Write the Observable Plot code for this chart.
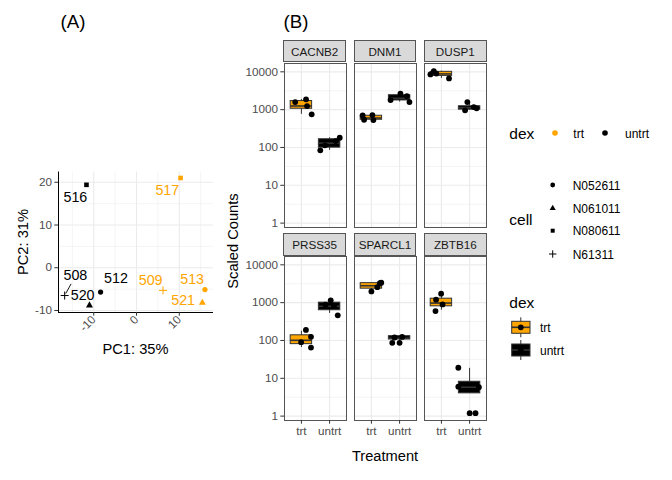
<!DOCTYPE html>
<html><head><meta charset="utf-8">
<script src="https://cdn.jsdelivr.net/npm/d3@7"></script>
<script src="https://cdn.jsdelivr.net/npm/@observablehq/plot@0.6"></script>
<style>
body{margin:0;background:#fff;font-family:"Liberation Sans",Arial,sans-serif;}
#root{position:relative;width:672px;height:480px;overflow:hidden;background:#fff;}
.layer{position:absolute;}
.t{position:absolute;white-space:nowrap;line-height:1;}
</style></head><body><div id="root"></div>
<script>
const FONT = '"Liberation Sans", Arial, sans-serif';
// ---------- Panel A data (PCA) ----------
const samples    = ["508","509","512","513","516","517","520","521"];
const sampleDex  = ["untrt","trt","untrt","trt","untrt","trt","untrt","trt"];
const sampleCell = ["N61311","N61311","N052611","N052611","N080611","N080611","N061011","N061011"];
const pc1 = [-16.8, 6.2, -8.4, 16.0, -11.7, 10.3, -11.0, 15.4];
const pc2 = [-6.5, -5.3, -5.7, -5.1, 19.4, 21.0, -8.8, -8.2];
const labelPc1 = [-14.3, 3.3, -4.8, 13.0, -14.3, 7.2, -12.6, 10.9];
const labelPc2 = [-1.8, -3.0, -2.6, -2.8, 16.5, 18.1, -6.5, -7.6];
const labelSegment = [true, false, false, false, false, false, false, false];
const pcXTicks = [-10, 0, 10];
const pcYTicks = [-10, 0, 10, 20];
const pcXMinor = [-15, -5, 5, 15];
const pcYMinor = [-5, 5, 15];
const pcXDomain = [-18.24, 18.0];
const pcYDomain = [-10.47, 22.4];

const cells = ["N052611","N061011","N080611","N61311"];
const cellSymbols = ["circle","triangle","square","plus"];
const treatments = ["trt","untrt"];
const dexColors = ["#FFA500","#000000"];

// ---------- Panel B data (counts) ----------
const genes = ["CACNB2","DNM1","DUSP1","PRSS35","SPARCL1","ZBTB16"];
const trtCounts = [[1590,1870,1245,752],[700,540,720,530],[8550,10400,9000,6700],[190,125,90,65],[1983,2570,3280,3360],[1726,1200,600,900]];
const trtJitter = [[-0.22,0.165,0.20,0.365],[-0.31,-0.26,0.035,0.07],[-0.39,-0.27,-0.18,0.27],[0.16,0.34,-0.01,0.34],[0,0.21,0.30,0.35],[-0.01,-0.19,-0.21,0.04]];
const untrtCounts = [[84,114,148,181],[1790,2630,2285,1590],[1590,957,1170,1082],[1150,880,820,463],[86.5,120,86.5,124],[19,6,5.8,1.2,1.2]];
const untrtJitter = [[-0.33,-0.165,0.22,0.36],[-0.32,0.03,0.26,0.35],[-0.08,-0.16,0.15,0.25],[0.04,-0.15,0.155,0.29],[-0.26,-0.18,0,0.09],[-0.40,-0.40,0.33,0.003,0.21]];
// box stats: [lower whisker, q1, median, q3, upper whisker]
const trtBox = [[752,1056,1250,1690,1870],[530,540,600,690,720],[6700,7800,8800,10000,10400],[65,80,101,137,176],[1983,2340,2800,3280,3360],[630,800,975,1274,1700]];
const untrtBox = [[84,99,130,165,181],[1590,1750,2000,2410,2630],[957,1000,1120,1230,1590],[520,630,800,1000,1150],[86.5,106,115,130,130],[4.0,4.0,5.8,8.1,18.3]];
const yMajorB = [1, 10, 100, 1000, 10000];
const yMinorB = [3.162, 31.62, 316.2, 3162];
const yDomainB = [0.766, 16600];

const root = document.getElementById("root");
function text(str, x, y, o = {}) {
  const d = document.createElement("div");
  d.className = "t";
  d.textContent = str;
  d.style.left = x + "px"; d.style.top = y + "px";
  d.style.fontSize = (o.size || 14.67) + "px";
  d.style.color = o.color || "#000";
  const anchor = o.anchor || "middle";
  const tx = anchor === "start" ? "0" : "-50%";
  d.style.transform = `translate(${tx},-50%)` + (o.rotate ? ` rotate(${o.rotate}deg)` : "");
  root.appendChild(d);
  return d;
}
function layer(node, x, y, w, h) {
  const d = document.createElement("div");
  d.className = "layer";
  d.style.left = x + "px"; d.style.top = y + "px";
  d.style.width = w + "px"; d.style.height = h + "px";
  d.appendChild(node);
  root.appendChild(d);
  return d;
}

// ---------- Panel A ----------
const pca = samples.map((s, i) => ({
  sample: s, dex: sampleDex[i], cell: sampleCell[i],
  pc1: pc1[i], pc2: pc2[i], lx: labelPc1[i], ly: labelPc2[i], seg: labelSegment[i]
}));
const segs = pca.filter(d => d.seg).map(d => ({
  x1: d.lx + 0.4 * (d.pc1 - d.lx), y1: d.ly + 0.42 * (d.pc2 - d.ly),
  x2: d.lx + 0.9 * (d.pc1 - d.lx), y2: d.ly + 0.9 * (d.pc2 - d.ly)
}));
const axisStyle = {fontFamily: FONT, fontSize: "11.7px", background: "transparent", overflow: "visible"};
const plotA = Plot.plot({
  width: 230, height: 200, marginLeft: 58, marginRight: 17, marginTop: 11.5, marginBottom: 48,
  style: axisStyle,
  x: {domain: pcXDomain},
  y: {domain: pcYDomain},
  color: {domain: treatments, range: dexColors},
  symbol: {domain: cells, range: cellSymbols},
  marks: [
    Plot.ruleX(pcXMinor, {stroke: "#EBEBEB", strokeWidth: 0.55}),
    Plot.ruleY(pcYMinor, {stroke: "#EBEBEB", strokeWidth: 0.55}),
    Plot.ruleX(pcXTicks, {stroke: "#EBEBEB", strokeWidth: 1.1}),
    Plot.ruleY(pcYTicks, {stroke: "#EBEBEB", strokeWidth: 1.1}),
    Plot.link(segs, {x1: "x1", y1: "y1", x2: "x2", y2: "y2", stroke: "black", strokeWidth: 0.9}),
    Plot.dot(pca.filter(d => d.cell !== "N61311"), {x: "pc1", y: "pc2", symbol: "cell", fill: "dex", r: 2.6}),
    Plot.dot(pca.filter(d => d.cell === "N61311"), {x: "pc1", y: "pc2", symbol: "cell", stroke: "dex", r: 2.7, strokeWidth: 1}),
    Plot.text(pca, {x: "lx", y: "ly", text: "sample", fill: "dex", fontSize: 14.3, fontFamily: FONT}),
    Plot.ruleX([pcXDomain[0]], {stroke: "black", strokeWidth: 1}),
    Plot.ruleY([pcYDomain[0]], {stroke: "black", strokeWidth: 1}),
    Plot.axisX({ticks: pcXTicks, tickFormat: d => String(d), tickRotate: -45, tickSize: 3.7, tickPadding: 1.5, label: null, stroke: "#333", fill: "#4D4D4D"}),
    Plot.axisY({ticks: pcYTicks, tickFormat: d => String(d), tickSize: 3.7, tickPadding: 2.9, label: null, stroke: "#333", fill: "#4D4D4D"})
  ]
});
layer(plotA, 0, 160, 230, 200);
text("PC1: 35%", 135.5, 349, {size: 14.67});
text("PC2: 31%", 23, 241.7, {size: 14.67, rotate: -90});
text("(A)", 73, 22, {size: 18.7});
text("(B)", 296, 22, {size: 18.7});

// ---------- Panel B ----------
const pointsB = [];
const boxesB = [];
genes.forEach((g, gi) => {
  const col = gi % 3, row = Math.floor(gi / 3);
  [[trtCounts, trtJitter, trtBox, "trt", 1], [untrtCounts, untrtJitter, untrtBox, "untrt", 2]].forEach(([cnt, jit, bx, dex, pos]) => {
    cnt[gi].forEach((c, i) => pointsB.push({gene: g, col, row, dex, pos, count: c, jitter: jit[gi][i]}));
    const [lo, q1, med, q3, hi] = bx[gi];
    boxesB.push({gene: g, col, row, dex, pos, lo, q1, med, q3, hi});
  });
});
const BW = 0.38;
const B = {left: 220, top: 30, width: 280, height: 440, mL: 63.3, mR: 13.3, mT: 32.3, mB: 50, padX: 0.108, padY: 0.1514};
const plotB = Plot.plot({
  width: B.width, height: B.height, marginLeft: B.mL, marginRight: B.mR, marginTop: B.mT, marginBottom: B.mB,
  style: axisStyle,
  fx: {domain: [0, 1, 2], paddingInner: B.padX, paddingOuter: 0, axis: null, label: null},
  fy: {domain: [0, 1], paddingInner: B.padY, paddingOuter: 0, axis: null, label: null},
  x: {domain: [0.4, 2.6]},
  y: {type: "log", domain: yDomainB},
  color: {domain: treatments, range: dexColors},
  marks: [
    Plot.ruleY(yMinorB, {stroke: "#EBEBEB", strokeWidth: 0.55}),
    Plot.ruleY(yMajorB, {stroke: "#EBEBEB", strokeWidth: 1.1}),
    Plot.ruleX([1, 2], {stroke: "#EBEBEB", strokeWidth: 1.1}),
    Plot.ruleX(boxesB, {x: "pos", y1: "lo", y2: "hi", fx: "col", fy: "row", stroke: "#333", strokeWidth: 1}),
    Plot.rect(boxesB, {x1: d => d.pos - BW, x2: d => d.pos + BW, y1: "q1", y2: "q3", fill: "dex", stroke: "#333", strokeWidth: 1, fx: "col", fy: "row"}),
    Plot.ruleY(boxesB, {y: "med", x1: d => d.pos - BW, x2: d => d.pos + BW, stroke: "#333", strokeWidth: 1.6, fx: "col", fy: "row"}),
    Plot.dot(pointsB, {x: d => d.pos + d.jitter, y: "count", fx: "col", fy: "row", fill: "black", r: 2.9}),
    Plot.frame({stroke: "#555", strokeWidth: 1}),
    Plot.axisY({ticks: yMajorB, tickFormat: d => String(d), tickSize: 3.7, tickPadding: 2.9, label: null, stroke: "#333", fill: "#4D4D4D"}),
    Plot.axisX({ticks: [1, 2], tickFormat: d => treatments[d - 1], tickSize: 3.7, tickPadding: 2.9, label: null, stroke: "#333", fill: "#4D4D4D"})
  ]
});
layer(plotB, B.left, B.top, B.width, B.height);
// strips
const innerW = B.width - B.mL - B.mR, innerH = B.height - B.mT - B.mB;
const stepX = innerW / (3 - B.padX), stepY = innerH / (2 - B.padY);
const bwX = stepX * (1 - B.padX);
const stripH = 22.3;
genes.forEach((g, gi) => {
  const col = gi % 3, row = Math.floor(gi / 3);
  const x = B.left + B.mL + col * stepX;
  const y = B.top + B.mT + row * stepY - stripH;
  const d = document.createElement("div");
  d.style.cssText = `position:absolute;left:${x}px;top:${y}px;width:${bwX}px;height:${stripH}px;box-sizing:border-box;background:#D9D9D9;border:1px solid #555;font-size:11.7px;color:#1A1A1A;display:flex;align-items:center;justify-content:center;`;
  d.textContent = g;
  root.appendChild(d);
});
text("Treatment", B.left + B.mL + innerW / 2, 456, {size: 14.67});
text("Scaled Counts", 232.5, B.top + B.mT + innerH / 2, {size: 14.67, rotate: -90});

// ---------- Legends ----------
function svgNode(w, h, inner) {
  const s = document.createElementNS("http://www.w3.org/2000/svg", "svg");
  s.setAttribute("width", w); s.setAttribute("height", h);
  s.style.position = "absolute"; s.style.left = "0"; s.style.top = "0";
  s.innerHTML = inner;
  return s;
}
const sym = (name, size) => d3.symbol(d3["symbol" + name], size)();
let legendSvg = "";
// dex (colour)
legendSvg += `<circle cx="555" cy="133" r="2.8" fill="${dexColors[0]}"/>`;
legendSvg += `<circle cx="605" cy="133" r="2.8" fill="${dexColors[1]}"/>`;
// cell (shape)
const cellY = [185, 208.3, 230.7, 254];
const legendSym = [["Circle", 18], ["Triangle", 16], ["Square", 16], ["Plus", 19.8]];
cells.forEach((c, i) => {
  const [n, s] = legendSym[i];
  const isPlus = n === "Plus";
  legendSvg += `<path transform="translate(552.7,${cellY[i]})" d="${sym(n, s)}" ${isPlus ? 'fill="none" stroke="#000" stroke-width="1"' : 'fill="#000"'}/>`;
});
// dex (box)
const boxY = [327.3, 350];
treatments.forEach((t, i) => {
  const cy = boxY[i];
  legendSvg += `<line x1="520.8" x2="520.8" y1="${cy - 10}" y2="${cy + 10}" stroke="#333" stroke-width="1"/>`;
  legendSvg += `<rect x="511.7" y="${cy - 6}" width="18.3" height="12" fill="${dexColors[i]}" stroke="#333" stroke-width="1"/>`;
  legendSvg += `<line x1="511.7" x2="530" y1="${cy}" y2="${cy}" stroke="#333" stroke-width="1.6"/>`;
  legendSvg += `<circle cx="520.8" cy="${cy}" r="2.9" fill="#000"/>`;
});
root.appendChild(svgNode(672, 480, legendSvg));
text("dex", 509.3, 134, {size: 15.5, anchor: "start"});
text("trt", 573.3, 133.5, {size: 12, anchor: "start"});
text("untrt", 625, 133.5, {size: 12, anchor: "start"});
text("cell", 509.3, 220, {size: 15.5, anchor: "start"});
cells.forEach((c, i) => text(c, 572.7, cellY[i] + 0.5, {size: 12, anchor: "start"}));
text("dex", 509.3, 302.7, {size: 15.5, anchor: "start"});
treatments.forEach((t, i) => text(t, 540, boxY[i] + 0.5, {size: 12, anchor: "start"}));
</script></body></html>
